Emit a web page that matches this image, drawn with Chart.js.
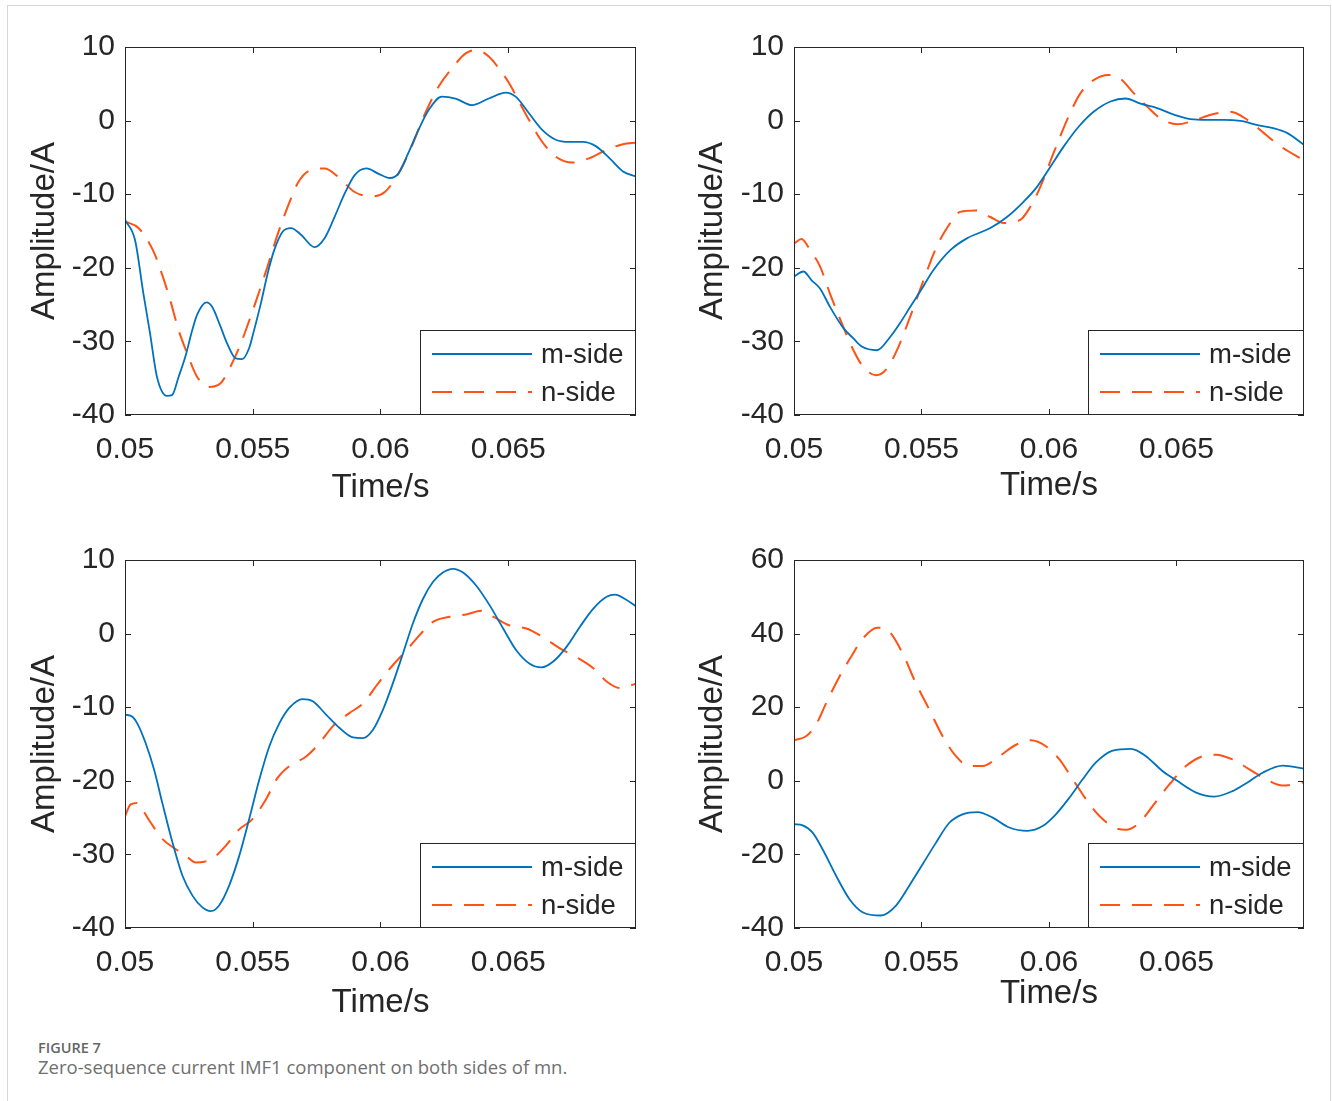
<!DOCTYPE html>
<html lang="en">
<head>
<meta charset="UTF-8">
<title>Zero-sequence current IMF1 component</title>
<script src="https://cdn.jsdelivr.net/npm/chart.js"></script>
<style>
  body {
    margin: 0;
    background: #fff;
    width: 1332px;
    height: 1101px;
    position: relative;
    overflow: hidden;
  }
  #frame {
    position: absolute;
    left: 7px;
    top: 5px;
    width: 1322px;
    height: 1120px;
    border: 1px solid #d6d6d6;
  }
  .panel { position: absolute; }
  #figNo {
    position: absolute;
    left: 38px;
    top: 1038px;
    font: 600 14.5px "Open Sans", sans-serif;
    color: #666;
  }
  #caption {
    position: absolute;
    left: 38px;
    top: 1054px;
    font: 18.5px "Open Sans", sans-serif;
    color: #707070;
  }
</style>
</head>
<body>
<div id="frame"></div>
<canvas id="c1" class="panel" width="650" height="510" style="left:10px;top:10px"></canvas>
<canvas id="c2" class="panel" width="650" height="510" style="left:680px;top:10px"></canvas>
<canvas id="c3" class="panel" width="650" height="510" style="left:10px;top:523px"></canvas>
<canvas id="c4" class="panel" width="650" height="510" style="left:680px;top:523px"></canvas>
<div id="figNo">FIGURE 7</div>
<div id="caption">Zero-sequence current IMF1 component on both sides of mn.</div>

<script>
// values: time (s) and amplitude (A)
const p1mT = [0.05, 0.05039, 0.05072, 0.05098, 0.05125, 0.05164, 0.05184, 0.0521, 0.05236, 0.05263, 0.05282, 0.05319, 0.05341, 0.05374, 0.054, 0.05433, 0.05459, 0.05486, 0.05505, 0.05532, 0.05558, 0.05584, 0.05617, 0.0565, 0.05689, 0.05742, 0.05781, 0.0582, 0.0586, 0.05899, 0.05945, 0.05991, 0.06037, 0.0607, 0.06109, 0.06148, 0.06188, 0.0624, 0.06293, 0.06358, 0.06424, 0.0649, 0.06529, 0.06581, 0.06634, 0.06686, 0.06739, 0.06791, 0.06844, 0.06896, 0.06949, 0.07];
const p1mV = [-13.5, -16.2, -23.5, -28.9, -34.8, -37.4, -37.3, -34.8, -32.1, -28.5, -26.4, -24.7, -25.3, -28.0, -30.3, -32.3, -32.4, -30.9, -28.5, -24.8, -20.8, -17.6, -15.1, -14.6, -15.5, -17.2, -16.0, -13.1, -9.9, -7.4, -6.5, -7.2, -7.8, -7.2, -4.4, -1.3, 1.4, 3.25, 3.0, 2.1, 3.0, 3.8, 3.25, 1.0, -1.3, -2.6, -2.9, -2.9, -3.5, -5.1, -6.9, -7.6];
const p1nT = [0.05, 0.05053, 0.05112, 0.05144, 0.05177, 0.0521, 0.05243, 0.05282, 0.05328, 0.05374, 0.05413, 0.05453, 0.05505, 0.05558, 0.05597, 0.05637, 0.05676, 0.05722, 0.05781, 0.05833, 0.05899, 0.05965, 0.06017, 0.0607, 0.06122, 0.06175, 0.06227, 0.0628, 0.06332, 0.06378, 0.06424, 0.06463, 0.06503, 0.06542, 0.06581, 0.06627, 0.06686, 0.06752, 0.06818, 0.06883, 0.06949, 0.07];
const p1nV = [-13.7, -14.6, -17.8, -20.8, -24.4, -28.5, -31.6, -34.8, -36.2, -35.7, -33.4, -30.3, -25.3, -19.8, -15.5, -11.7, -8.5, -6.8, -6.5, -7.6, -9.7, -10.3, -9.7, -7.2, -3.5, 1.0, 4.6, 7.1, 9.1, 9.6, 8.7, 7.1, 5.1, 2.6, 0.1, -2.6, -4.9, -5.7, -5.1, -4.0, -3.2, -3.0];

const p2mT = [0.05, 0.05037, 0.05069, 0.05102, 0.05141, 0.05194, 0.05233, 0.05266, 0.05325, 0.05377, 0.05416, 0.05456, 0.05495, 0.05547, 0.05613, 0.05678, 0.0577, 0.05835, 0.05901, 0.05953, 0.06005, 0.06058, 0.06117, 0.06175, 0.06241, 0.063, 0.06359, 0.06424, 0.0649, 0.06555, 0.0662, 0.06686, 0.06751, 0.06817, 0.06882, 0.06935, 0.07];
const p2mV = [-21.2, -20.5, -21.7, -22.8, -25.3, -28.2, -29.6, -30.7, -31.2, -29.4, -27.5, -25.3, -23.2, -20.3, -17.6, -16.0, -14.6, -13.1, -11.0, -9.0, -6.3, -3.5, -0.8, 1.2, 2.6, 3.0, 2.3, 1.7, 0.8, 0.2, 0.1, 0.1, -0.05, -0.6, -1.05, -1.7, -3.3];
const p2nT = [0.05, 0.0503, 0.05063, 0.05102, 0.05141, 0.05187, 0.05226, 0.05266, 0.05322, 0.05364, 0.0541, 0.05456, 0.05508, 0.0556, 0.056, 0.05652, 0.05711, 0.0577, 0.05822, 0.05887, 0.05927, 0.05966, 0.06018, 0.06071, 0.06123, 0.06175, 0.06234, 0.0628, 0.06333, 0.06385, 0.06437, 0.06503, 0.06568, 0.06634, 0.06712, 0.06778, 0.06843, 0.06908, 0.07];
const p2nV = [-16.7, -16.1, -17.6, -19.8, -23.5, -27.5, -30.7, -33.2, -34.6, -33.7, -30.7, -26.6, -21.7, -17.1, -14.6, -12.4, -12.2, -13.1, -13.9, -13.5, -11.7, -9.0, -4.4, 0.1, 3.7, 5.5, 6.2, 5.7, 3.7, 1.9, 0.3, -0.5, 0.0, 0.8, 1.2, 0.1, -1.7, -3.5, -5.4];

const p3mT = [0.05, 0.05029, 0.05048, 0.05081, 0.05114, 0.05146, 0.05186, 0.05225, 0.05264, 0.05303, 0.05336, 0.05369, 0.05408, 0.05447, 0.05486, 0.05526, 0.05565, 0.05604, 0.05643, 0.05695, 0.05735, 0.05787, 0.05839, 0.05892, 0.05931, 0.0597, 0.06009, 0.06048, 0.06088, 0.06127, 0.06166, 0.06205, 0.06244, 0.06284, 0.06323, 0.06375, 0.06428, 0.0648, 0.06532, 0.06584, 0.0663, 0.06676, 0.06728, 0.0678, 0.06833, 0.06885, 0.06918, 0.06957, 0.07];
const p3mV = [-11.0, -11.3, -12.2, -14.9, -18.5, -23.0, -28.4, -32.9, -35.6, -37.2, -37.7, -36.9, -34.2, -30.2, -25.2, -19.8, -15.3, -12.2, -10.1, -8.9, -9.2, -11.0, -12.8, -14.1, -14.2, -13.1, -10.4, -6.8, -2.7, 1.4, 4.7, 7.0, 8.3, 8.8, 8.3, 6.5, 3.8, 0.7, -2.3, -4.1, -4.6, -3.8, -1.8, 0.9, 3.4, 5.0, 5.3, 4.7, 3.7];
const p3nT = [0.05, 0.05022, 0.05048, 0.05068, 0.05101, 0.05146, 0.05199, 0.05238, 0.05277, 0.0531, 0.05349, 0.05395, 0.05447, 0.05499, 0.05552, 0.05597, 0.05643, 0.05709, 0.05761, 0.05813, 0.05878, 0.05931, 0.0599, 0.06048, 0.06101, 0.06153, 0.06205, 0.06271, 0.06336, 0.06395, 0.06441, 0.06506, 0.06571, 0.06637, 0.06702, 0.06767, 0.06833, 0.06885, 0.06937, 0.07];
const p3nV = [-24.8, -23.2, -23.0, -23.9, -25.7, -27.9, -29.3, -30.2, -31.1, -31.0, -30.4, -28.8, -26.6, -25.2, -22.5, -19.6, -18.0, -16.7, -14.9, -12.6, -10.8, -9.5, -6.8, -4.3, -2.3, -0.2, 1.6, 2.3, 2.6, 3.1, 2.3, 1.1, 0.7, -0.5, -2.0, -3.2, -4.7, -6.5, -7.4, -6.8];

const p4mT = [0.05, 0.05034, 0.05073, 0.05112, 0.05165, 0.05217, 0.05269, 0.05341, 0.054, 0.05452, 0.05505, 0.05557, 0.05609, 0.05661, 0.0572, 0.05779, 0.05844, 0.05916, 0.05975, 0.06027, 0.0608, 0.06132, 0.06184, 0.0625, 0.06322, 0.0638, 0.06446, 0.06498, 0.06577, 0.06648, 0.0672, 0.06786, 0.06838, 0.06916, 0.07];
const p4mV = [-11.8, -12.1, -14.1, -18.6, -25.8, -32.1, -35.7, -36.6, -33.9, -28.5, -22.6, -16.8, -11.4, -9.1, -8.5, -10.0, -12.7, -13.6, -12.3, -9.1, -4.6, 0.4, 5.0, 8.2, 8.7, 6.7, 2.6, 0.2, -3.2, -4.3, -2.8, -0.1, 2.2, 4.1, 3.3];
const p4nT = [0.05, 0.05047, 0.05086, 0.05126, 0.05178, 0.05224, 0.05269, 0.05328, 0.05374, 0.05426, 0.05478, 0.05531, 0.05583, 0.05635, 0.05688, 0.0574, 0.05805, 0.05871, 0.05929, 0.05988, 0.06041, 0.06093, 0.06145, 0.06197, 0.06256, 0.06302, 0.06354, 0.06407, 0.06472, 0.06537, 0.06603, 0.06655, 0.0672, 0.06786, 0.06851, 0.06916, 0.07];
const p4nV = [11.0, 12.1, 15.2, 21.1, 28.3, 33.7, 38.6, 41.6, 40.5, 34.6, 26.5, 19.3, 12.1, 6.7, 4.0, 4.0, 6.7, 9.8, 11.0, 9.4, 5.8, 0.4, -5.0, -9.5, -12.7, -13.3, -11.4, -6.8, -1.0, 4.0, 6.7, 7.1, 5.8, 3.1, 0.4, -1.3, -0.4];

const xTicks = [0.05, 0.055, 0.06, 0.065];
const seriesNames = ['m-side', 'n-side'];

const BLUE = '#0072BD';
const ORANGE = '#FF5214';
const AXIS = '#262626';
const FONT = 'Arial, "Liberation Sans", Helvetica, sans-serif';

// matlab style box: frame, inward ticks on all four sides, legend bottom-right
const boxPlugin = {
    id: 'box',
    afterDraw(chart) {
        const ctx = chart.ctx;
        const a = chart.chartArea;
        const xs = chart.scales.x, ys = chart.scales.y;
        ctx.save();
        ctx.strokeStyle = AXIS;
        ctx.lineWidth = 1;
        ctx.strokeRect(a.left + 0.5, a.top + 0.5, a.right - a.left - 1, a.bottom - a.top - 1);
        ctx.beginPath();
        xs.ticks.forEach(t => {
            const px = Math.round(xs.getPixelForValue(t.value)) + 0.5;
            ctx.moveTo(px, a.bottom); ctx.lineTo(px, a.bottom - 6);
            ctx.moveTo(px, a.top); ctx.lineTo(px, a.top + 6);
        });
        ys.ticks.forEach(t => {
            const py = Math.round(ys.getPixelForValue(t.value)) + 0.5;
            ctx.moveTo(a.left, py); ctx.lineTo(a.left + 6, py);
            ctx.moveTo(a.right, py); ctx.lineTo(a.right - 6, py);
        });
        ctx.stroke();

        // legend
        const w = 216, h = 85;
        const bx = a.right - w, by = a.bottom - h;
        ctx.fillStyle = '#fff';
        ctx.fillRect(bx, by, w, h);
        ctx.strokeRect(bx + 0.5, by + 0.5, w - 1, h - 1);
        ctx.font = '27.5px ' + FONT;
        ctx.textBaseline = 'middle';
        chart.data.datasets.forEach((ds, i) => {
            const ly = by + 24 + i * 38;
            ctx.strokeStyle = ds.borderColor;
            ctx.lineWidth = 2;
            ctx.setLineDash(ds.borderDash || []);
            ctx.beginPath();
            ctx.moveTo(bx + 12, ly); ctx.lineTo(bx + 112, ly);
            ctx.stroke();
            ctx.setLineDash([]);
            ctx.fillStyle = AXIS;
            ctx.fillText(ds.label, bx + 121, ly + 1);
        });
        ctx.restore();
    }
};

function pts(T, V) {
    return T.map((t, i) => ({x: t, y: V[i]}));
}

const panels = [
    {id: 'c1', m: pts(p1mT, p1mV), n: pts(p1nT, p1nV), yMin: -40, yMax: 10, yStep: 10, yAxisW: 115, padR: 24, yTitlePad: 15, xTitlePad: 12},
    {id: 'c2', m: pts(p2mT, p2mV), n: pts(p2nT, p2nV), yMin: -40, yMax: 10, yStep: 10, yAxisW: 114, padR: 26, yTitlePad: 13, xTitlePad: 14},
    {id: 'c3', m: pts(p3mT, p3mV), n: pts(p3nT, p3nV), yMin: -40, yMax: 10, yStep: 10, yAxisW: 115, padR: 24, yTitlePad: 15, xTitlePad: 10},
    {id: 'c4', m: pts(p4mT, p4mV), n: pts(p4nT, p4nV), yMin: -40, yMax: 60, yStep: 20, yAxisW: 114, padR: 26, yTitlePad: 13, xTitlePad: 19}
];

panels.forEach(p => {
    new Chart(document.getElementById(p.id), {
        type: 'line',
        data: {
            datasets: [{
                label: seriesNames[0],
                data: p.m,
                borderColor: BLUE,
                borderWidth: 1.8,
                pointRadius: 0,
                cubicInterpolationMode: 'monotone'
            }, {
                label: seriesNames[1],
                data: p.n,
                borderColor: ORANGE,
                borderWidth: 2,
                borderDash: [20, 12],
                pointRadius: 0,
                cubicInterpolationMode: 'monotone'
            }]
        },
        options: {
            responsive: false,
            animation: false,
            events: [],
            layout: {padding: {left: 0, top: 37, right: p.padR, bottom: 0}},
            plugins: {legend: {display: false}, tooltip: {enabled: false}},
            scales: {
                x: {
                    type: 'linear',
                    min: 0.05,
                    max: 0.07,
                    grid: {display: false, drawTicks: false},
                    border: {display: false},
                    afterBuildTicks: s => { s.ticks = xTicks.map(v => ({value: v})); },
                    afterFit: s => { s.height = 105; },
                    ticks: {
                        padding: 17,
                        color: AXIS,
                        font: {family: FONT, size: 30},
                        maxRotation: 0,
                        callback: v => String(+v.toFixed(4))
                    },
                    title: {
                        display: true,
                        text: 'Time/s',
                        color: AXIS,
                        font: {family: FONT, size: 33},
                        padding: {top: 0, bottom: p.xTitlePad}
                    }
                },
                y: {
                    min: p.yMin,
                    max: p.yMax,
                    grid: {display: false, drawTicks: false},
                    border: {display: false},
                    afterFit: s => { s.width = p.yAxisW; },
                    ticks: {
                        stepSize: p.yStep,
                        padding: 10,
                        color: AXIS,
                        font: {family: FONT, size: 30}
                    },
                    title: {
                        display: true,
                        text: 'Amplitude/A',
                        color: AXIS,
                        font: {family: FONT, size: 33},
                        padding: {top: p.yTitlePad, bottom: 0}
                    }
                }
            }
        },
        plugins: [boxPlugin]
    });
});
</script>
</body>
</html>
